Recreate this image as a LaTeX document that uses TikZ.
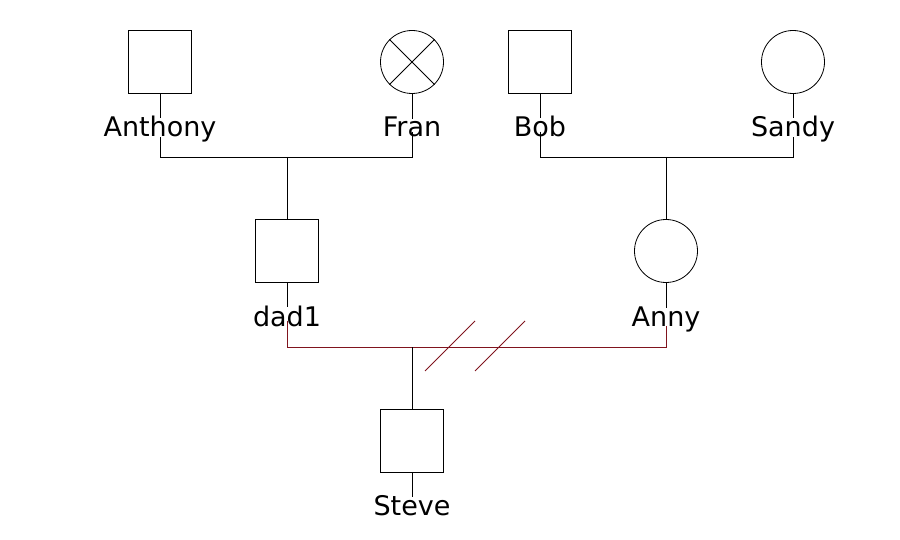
\documentclass[tikz,border=0pt]{standalone}
\usepackage{fontspec}
\setmainfont{DejaVu Sans}
\definecolor{rel}{RGB}{128,20,30}
\begin{document}
\begin{tikzpicture}[x=1pt,y=-1pt,
  male/.style={draw,line width=0.8pt,minimum size=63pt,inner sep=0pt},
  female/.style={draw,circle,line width=0.8pt,minimum size=63pt,inner sep=0pt},
  lab/.style={font=\fontsize{27}{30}\selectfont,inner sep=0pt,anchor=base},
  ln/.style={line width=0.8pt}]
\useasboundingbox (0,0) rectangle (900,540);
\node[male] (anthony) at (160,62) {};
\node[female] (fran) at (412,62) {};
\draw[ln] (fran.north west) -- (fran.south east) (fran.north east) -- (fran.south west);
\node[male] (bob) at (540,62) {};
\node[female] (sandy) at (793,62) {};
\node[male] (dad) at (287,251) {};
\node[female] (anny) at (666,251) {};
\node[male] (steve) at (412,441) {};
\node[lab] (lanthony) at (160,137) {Anthony};
\node[lab] (lfran) at (412,137) {Fran};
\node[lab] (lbob) at (540,137) {Bob};
\node[lab] (lsandy) at (793,137) {Sandy};
\node[lab] (ldad) at (287,326) {dad1};
\node[lab] (lanny) at (666,326) {Anny};
\node[lab] (lsteve) at (412,515) {Steve};
\foreach \a/\b in {anthony/lanthony,fran/lfran,bob/lbob,sandy/lsandy,dad/ldad,anny/lanny,steve/lsteve}
  \draw[ln] (\a.south) -- ([yshift=-2pt]\b.north);
\coordinate (c1) at (287,157);
\coordinate (c2) at (666,157);
\coordinate (c3) at (412,347);
\draw[ln] ([yshift=6pt]lanthony.south) -- (lanthony.south |- c1) -- (lfran.south |- c1) -- ([yshift=6pt]lfran.south);
\draw[ln] (c1) -- (dad.north);
\draw[ln] ([yshift=6pt]lbob.south) -- (lbob.south |- c2) -- (lsandy.south |- c2) -- ([yshift=6pt]lsandy.south);
\draw[ln] (c2) -- (anny.north);
\draw[ln,rel] ([yshift=6pt]ldad.south) -- (ldad.south |- c3) -- (lanny.south |- c3) -- ([yshift=6pt]lanny.south);
\draw[ln] (c3) -- (steve.north);
\coordinate (s1a) at (425,371); \coordinate (s1b) at (475,321);
\coordinate (s2a) at (475,371); \coordinate (s2b) at (525,321);
\draw[ln,rel] (s1a) -- (s1b);
\draw[ln,rel] (s2a) -- (s2b);
\end{tikzpicture}
\end{document}
